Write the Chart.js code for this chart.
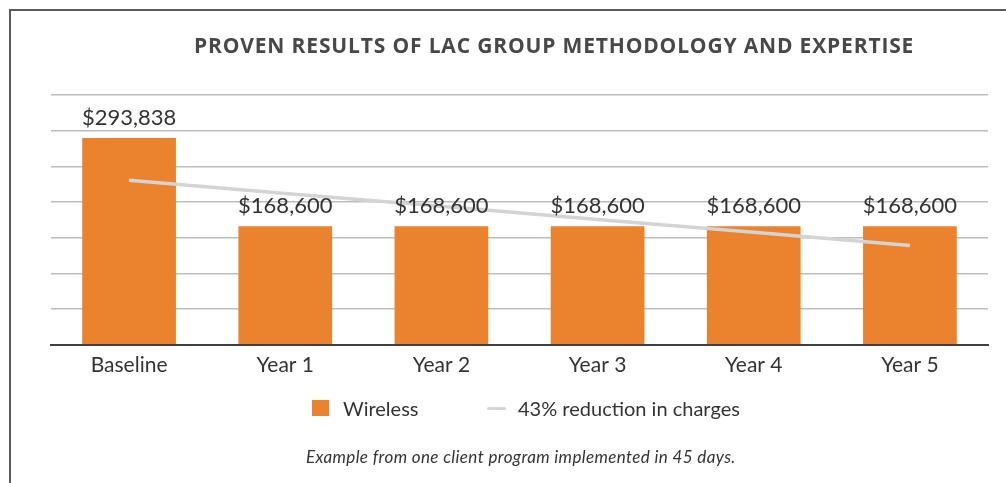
<!DOCTYPE html>
<html><head><meta charset="utf-8">
<script src="https://cdn.jsdelivr.net/npm/chart.js@4.4.1/dist/chart.umd.min.js"></script>
<style>
html,body{margin:0;padding:0;background:#fff;}
#wrap{position:relative;width:1006px;height:483px;overflow:hidden;background:#fff;}
#frame{position:absolute;left:9px;top:9px;width:1010px;height:490px;border-left:2px solid #5a5a5a;border-top:2px solid #5a5a5a;box-sizing:border-box;}
#c{position:absolute;left:0;top:0;}
#title{position:absolute;top:32px;left:194px;white-space:nowrap;font:bold 21px "Open Sans";color:#484848;line-height:26px;}
#legend{position:absolute;top:396px;left:0;width:1006px;height:24px;font:20px Lato;color:#333;}
.item{position:absolute;top:0;height:24px;display:flex;align-items:center;white-space:nowrap;}
.sw{display:inline-block;}
#caption{position:absolute;top:446px;left:306px;white-space:nowrap;font:italic 17px Lato;color:#333;line-height:22px;}
</style>
</head><body>
<div id="wrap">
<div id="frame"></div>
<canvas id="c" width="1006" height="483"></canvas>
<div id="title"></div>
<div id="legend"></div>
<div id="caption"></div>
</div>
<script>
const chartTitle = "PROVEN RESULTS OF LAC GROUP METHODOLOGY AND EXPERTISE";
const captionText = "Example from one client program implemented in 45 days.";
const categories = ["Baseline","Year 1","Year 2","Year 3","Year 4","Year 5"];
const barLabel = "Wireless";
const barValues = [293838,168600,168600,168600,168600,168600];
const lineLabel = "43% reduction in charges";
const trendValues = [234000,215000,197000,178000,160000,141000];
const yMin = 0, yMax = 355000, yTickCount = 8;

const fmt = v => "$" + v.toLocaleString("en-US");

const valueLabels = {
  id: "valueLabels",
  afterDatasetsDraw(chart) {
    const meta = chart.getDatasetMeta(0);
    const ctx = chart.ctx;
    ctx.save();
    ctx.font = "22px Lato";
    ctx.fillStyle = "#333";
    ctx.textAlign = "center";
    ctx.textBaseline = "middle";
    meta.data.forEach((bar, i) => {
      ctx.fillText(fmt(chart.data.datasets[0].data[i]), bar.x, bar.y - 20);
    });
    ctx.restore();
  }
};

const chart = new Chart(document.getElementById("c"), {
  data: {
    labels: categories,
    datasets: [
      { type: "bar", label: barLabel, data: barValues, backgroundColor: "#EB822D",
        barPercentage: 1, categoryPercentage: 0.6, order: 1 },
      { type: "line", label: lineLabel, data: trendValues, borderColor: "#d4d4d4",
        backgroundColor: "#d4d4d4", borderWidth: 3.5, pointRadius: 0, fill: false,
        tension: 0, order: 0 }
    ]
  },
  options: {
    responsive: false,
    animation: false,
    events: [],
    layout: { padding: { left: 51, right: 18, top: 95, bottom: 97 } },
    plugins: { legend: { display: false }, tooltip: { enabled: false }, title: { display: false } },
    scales: {
      x: {
        grid: { display: false, drawTicks: false },
        border: { display: true, color: "#404040", width: 2 },
        ticks: { font: { family: "Lato", size: 21 }, color: "#333", padding: 8 }
      },
      y: {
        min: yMin, max: yMax,
        ticks: { display: false, count: yTickCount },
        grid: { color: "#bdbdbd", lineWidth: 1.5, drawTicks: false },
        border: { display: false }
      }
    }
  },
  plugins: [valueLabels]
});

function fitText(el, text, targetWidth) {
  el.textContent = text;
  el.style.letterSpacing = "0px";
  const w = el.getBoundingClientRect().width;
  const ls = (targetWidth - w) / text.length;
  el.style.letterSpacing = ls.toFixed(2) + "px";
}
fitText(document.getElementById("title"), chartTitle, 720);
fitText(document.getElementById("caption"), captionText, 430);

// HTML legend built from the chart's own legend items
const items = Chart.defaults.plugins.legend.labels.generateLabels(chart)
  .sort((a, b) => a.datasetIndex - b.datasetIndex);
const legendEl = document.getElementById("legend");
const starts = [312, 487];
items.forEach((it, i) => {
  const d = document.createElement("div");
  d.className = "item";
  d.style.left = starts[i] + "px";
  const sw = document.createElement("span");
  sw.className = "sw";
  const ds = chart.data.datasets[it.datasetIndex];
  if (ds.type === "line") {
    sw.style.cssText = "width:19px;height:3px;border-radius:2px;margin-right:12px;background:" + ds.borderColor;
  } else {
    sw.style.cssText = "width:17px;height:16px;margin-right:14px;background:" + ds.backgroundColor;
  }
  d.appendChild(sw);
  const t = document.createElement("span");
  t.textContent = it.text;
  d.appendChild(t);
  legendEl.appendChild(d);
});
</script>
</body></html>
